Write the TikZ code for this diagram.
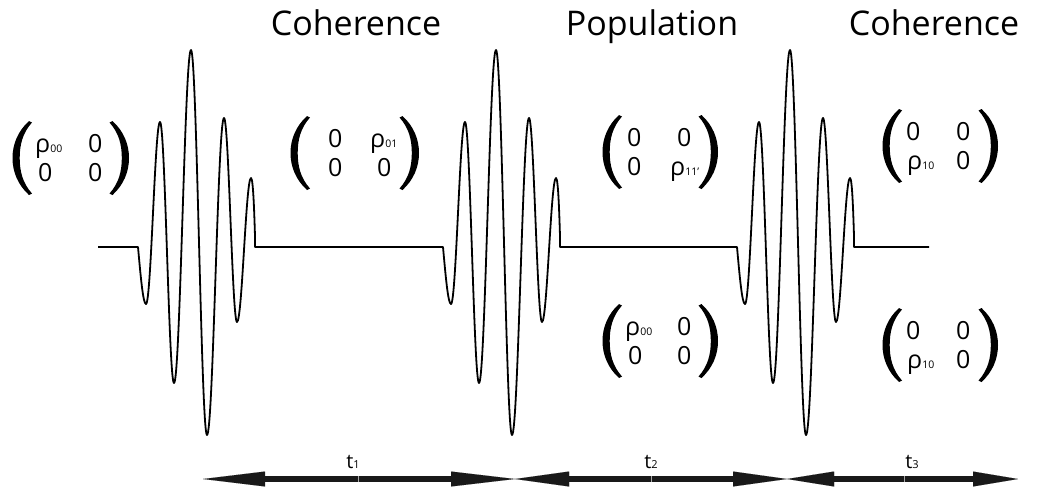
\documentclass[tikz,border=0pt]{standalone}
\usepackage{fontspec}
\setmainfont{Open Sans}
\usetikzlibrary{arrows.meta}
\newcommand\subsz[1]{{\fontsize{10.5}{10.5}\selectfont #1}}
\newcommand\tsub[1]{{\fontsize{11}{11}\selectfont #1}}
\newcommand\pulsewave[1]{%
 -- ({#1-53},247)
 .. controls +(2.7,30) and +(-2.9,0) .. ({#1-45},304)
 .. controls +(5.1,0) and +(-5.1,0) .. ({#1-31},122)
 .. controls +(5.1,0) and +(-5.1,0) .. ({#1-17},383)
 .. controls +(6.2,0) and +(-6.2,0) .. ({#1},50)
 .. controls +(5.8,0) and +(-5.8,0) .. ({#1+16},435)
 .. controls +(6.2,0) and +(-6.2,0) .. ({#1+33},118)
 .. controls +(4.7,0) and +(-4.7,0) .. ({#1+46},322)
 .. controls +(5.1,0) and +(-5.1,0) .. ({#1+60},178)
 .. controls +(2.2,0) and +(-0.7,-22) .. ({#1+64},236)
 -- ({#1+64},247)}
\tikzset{
  lparen/.pic={\fill (6.5,-37) .. controls (-4.5,-27) and (-10,-14) .. (-10,0)
      .. controls (-10,14) and (-4.5,27) .. (6.5,37) -- (9.5,35.5)
      .. controls (0,25) and (-2.8,13) .. (-2.8,0)
      .. controls (-2.8,-13) and (0,-25) .. (9.5,-35.5) -- cycle;},
  rparen/.pic={\begin{scope}[xscale=-1]\fill (6.5,-37) .. controls (-4.5,-27) and (-10,-14) .. (-10,0)
      .. controls (-10,14) and (-4.5,27) .. (6.5,37) -- (9.5,35.5)
      .. controls (0,25) and (-2.8,13) .. (-2.8,0)
      .. controls (-2.8,-13) and (0,-25) .. (9.5,-35.5) -- cycle;\end{scope}}
}
\begin{document}
\begin{tikzpicture}[x=1pt,y=-1pt,
  title/.style={font=\fontsize{34}{34}\selectfont, inner sep=0pt, anchor=base},
  ent/.style={font=\fontsize{25}{25}\selectfont, inner sep=0pt, anchor=base west},
  tlab/.style={font=\fontsize{20}{20}\selectfont, inner sep=0pt, anchor=base},
  wave/.style={line width=1.8pt, line join=round, line cap=butt},
  delayarrow/.style={line width=6pt, color=black!90},
  seam/.style={line width=0.7pt, color=black!35}]
\useasboundingbox (0,0) rectangle (1052,488);

% titles
\node[title] (coh1) at (356,35) {Coherence};
\node[title] (pop) at (652,35) {Population};
\node[title] (coh2) at (934,35) {Coherence};

% pulses and baseline
\draw[wave] (98,247) \pulsewave{191} \pulsewave{496} \pulsewave{790} -- (929,247);

% matrix 1
\pic at (22.5,158) {lparen}; \pic at (119,158) {rparen};
\node[ent] (m1a) at (35,152) {ρ\subsz{00}};
\node[ent] (m1b) at (88,152) {0};
\node[ent] (m1c) at (38,181) {0};
\node[ent] (m1d) at (88,181) {0};
% matrix 2
\pic at (300.5,153) {lparen}; \pic at (409,153) {rparen};
\node[ent] (m2a) at (328,147) {0};
\node[ent] (m2b) at (370,147) {ρ\subsz{01}};
\node[ent] (m2c) at (328,176) {0};
\node[ent] (m2d) at (377,176) {0};
% matrix 3
\pic at (612.5,152) {lparen}; \pic at (708,152) {rparen};
\node[ent] (m3a) at (627,146) {0};
\node[ent] (m3b) at (677,146) {0};
\node[ent] (m3c) at (627,175) {0};
\node[ent] (m3d) at (670,175) {ρ\subsz{11'}};
% matrix 4
\pic at (892.5,146) {lparen}; \pic at (988,146) {rparen};
\node[ent] (m4a) at (906,140) {0};
\node[ent] (m4b) at (956,140) {0};
\node[ent] (m4c) at (907,169) {ρ\subsz{10}};
\node[ent] (m4d) at (956,169) {0};
% matrix 5
\pic at (612.5,341) {lparen}; \pic at (708,341) {rparen};
\node[ent] (m5a) at (625,335) {ρ\subsz{00}};
\node[ent] (m5b) at (677,335) {0};
\node[ent] (m5c) at (628,364) {0};
\node[ent] (m5d) at (677,364) {0};
% matrix 6
\pic at (892.5,345) {lparen}; \pic at (988,345) {rparen};
\node[ent] (m6a) at (906,339) {0};
\node[ent] (m6b) at (956,339) {0};
\node[ent] (m6c) at (907,368) {ρ\subsz{10}};
\node[ent] (m6d) at (956,368) {0};

% delay arrows
\coordinate (a0) at (203,479);
\coordinate (a1) at (515,479);
\coordinate (a2) at (787,479);
\coordinate (a3) at (1018,479);
\draw[delayarrow, {Triangle[length=62pt,width=15pt,line width=0.01pt]}-{Triangle[length=64pt,width=15pt,line width=0.01pt]}] (a0) -- (a1);
\draw[delayarrow, {Triangle[length=54pt,width=15pt,line width=0.01pt]}-{Triangle[length=54pt,width=15pt,line width=0.01pt]}] (a1) -- (a2);
\draw[delayarrow, {Triangle[length=47pt,width=15pt,line width=0.01pt]}-{Triangle[length=45pt,width=15pt,line width=0.01pt]}] (a2) -- (a3);
\draw[seam] (358,476) -- (358,482);
\draw[seam] (651,476) -- (651,482);
\draw[seam] (904,476) -- (904,482);
\node[tlab] (t1) at (353,468) {t\tsub{1}};
\node[tlab] (t2) at (651,468) {t\tsub{2}};
\node[tlab] (t3) at (912,468) {t\tsub{3}};
\end{tikzpicture}
\end{document}
